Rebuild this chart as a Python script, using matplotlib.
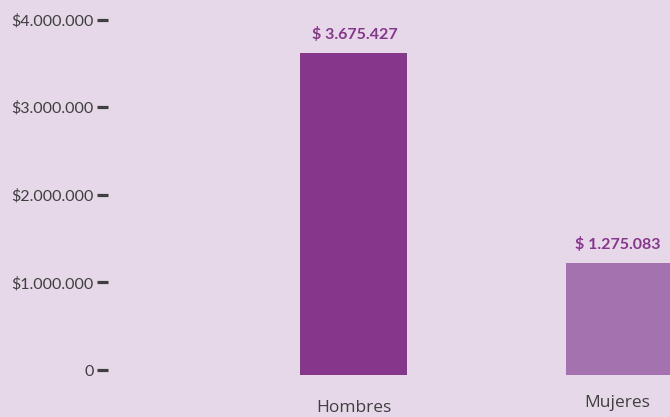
import matplotlib.pyplot as plt
import matplotlib.transforms as mtransforms

# Datos
categorias = ['Hombres', 'Mujeres']
montos = [3675427, 1275083]
colores = ['#86368B', '#A572B0']
yticks = [0, 1000000, 2000000, 3000000, 4000000]
ytick_labels = ['0', '$1.000.000', '$2.000.000', '$3.000.000', '$4.000.000']

fondo = '#E6D7E9'
gris = '#3F3F3F'


def formato_monto(v):
    return '$ ' + f'{v:,}'.replace(',', '.')


fig = plt.figure(figsize=(6.7, 4.17), dpi=100, facecolor=fondo)
ax = fig.add_axes([108 / 670, 42 / 417, 562 / 670, 375 / 417])
ax.set_facecolor(fondo)

x = list(range(len(categorias)))
ax.bar(x, montos, width=0.4, color=colores, zorder=2)

ax.set_xlim(-0.923, 1.19)
ax.set_ylim(0, 4.28e6)

# Etiquetas de valor sobre cada barra
offsets = [0.005, -0.008]
for xi, v, dx in zip(x, montos, offsets):
    ax.text(xi + dx, v + 0.13e6, formato_monto(v), ha='center', va='bottom',
            color='#86368B', fontsize=11.5, fontweight='bold', family='Lato')

# Eje y: marcas cortas y gruesas
ax.set_yticks(yticks)
ax.set_yticklabels(ytick_labels, family='Lato', fontsize=11.5, color=gris)
ax.tick_params(axis='y', length=8, width=2.3, color=gris, pad=2.5)
shift = mtransforms.ScaledTranslation(0, 5 / 100, fig.dpi_scale_trans)
for lbl in ax.get_yticklabels():
    lbl.set_transform(lbl.get_transform() + shift)
for t in ax.yaxis.get_major_ticks():
    t.tick1line.set_transform(t.tick1line.get_transform() + shift)

# Eje x: etiquetas como texto
ax.set_xticks([])
trans = mtransforms.blended_transform_factory(ax.transData, fig.transFigure)
ax.text(0, 1 - 408 / 417, 'Hombres', ha='center', va='center', fontsize=12.5,
        color=gris, family='Open Sans', transform=trans)
ax.text(0.99, 1 - 403 / 417, 'Mujeres', ha='center', va='center', fontsize=12.5,
        color=gris, family='Open Sans', transform=trans)

for s in ax.spines.values():
    s.set_visible(False)

fig.savefig('out.png', dpi=100, facecolor=fondo)
